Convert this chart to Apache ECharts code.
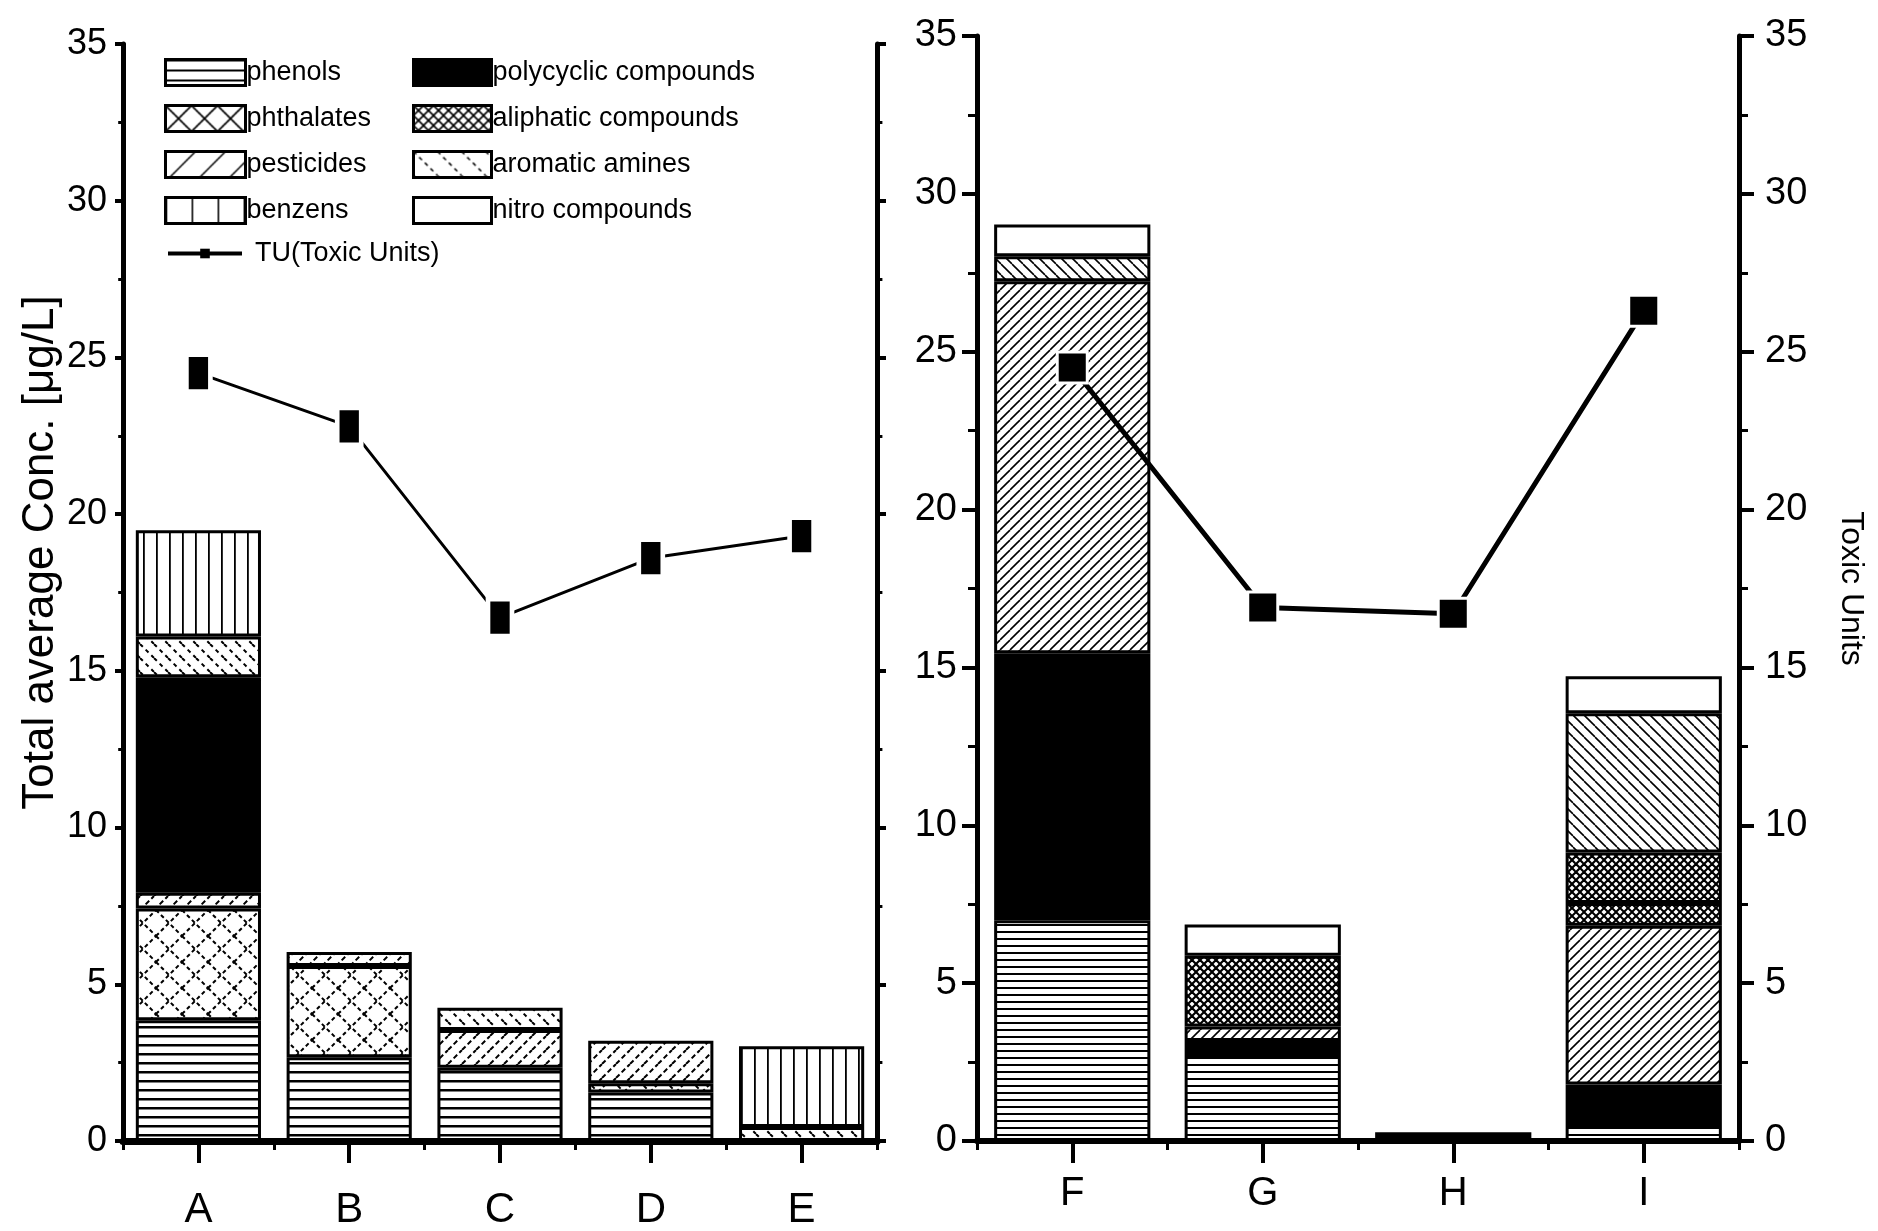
<!DOCTYPE html>
<html>
<head>
<meta charset="utf-8">
<title>Total average concentration and toxic units</title>
<script src="https://cdn.jsdelivr.net/npm/echarts@6/dist/echarts.min.js"></script>
<style>
  html, body { margin: 0; padding: 0; background: #fff; }
  #chart { width: 1878px; height: 1231px; }
</style>
</head>
<body>
<div id="chart"></div>
<script>
// ---- data ----
const leftCats = ['A', 'B', 'C', 'D', 'E'];
const rightCats = ['F', 'G', 'H', 'I'];

// left panel, stacked bottom -> top
const leftPhenols    = [3.85, 2.67, 2.34, 1.55, null];
const leftPhthalates = [3.57, 2.91, null, 0.29, null];
const leftPesticides = [0.50, 0.45, 1.20, 1.36, null];
const leftPolycyclic = [6.88, null, null, null, null];
const leftAromatic   = [1.30, null, 0.71, null, 0.45];
const leftBenzens    = [3.39, null, null, null, 2.57];
const leftTU         = [24.5, 22.8, 16.7, 18.6, 19.3];

// right panel, stacked bottom -> top
const rightPhenols    = [6.99, 2.69, null, 0.51];
const rightPolycyclic = [8.46, 0.48, 0.28, 1.28];
const rightPesticides = [11.78, 0.46, null, 5.03];
const rightPhthalates = [null, null, null, 0.72];
const rightAliphatic  = [null, 2.24, null, 1.60];
const rightAromatic   = [0.79, null, null, 4.41];
const rightNitro      = [1.01, 0.99, null, 1.17];
const rightTU         = [24.5, 16.9, 16.7, 26.3];

const axisMax = 35;
const axisStep = 5;

const narrowFont = "'Liberation Sans Narrow', 'Liberation Sans', sans-serif";
const plainFont = "'Liberation Sans', Arial, sans-serif";

// ---- hatch fills, drawn on small canvases ----
function tile(size, draw) {
  const c = document.createElement('canvas');
  c.width = size;
  c.height = size;
  const g = c.getContext('2d');
  g.fillStyle = '#fff';
  g.fillRect(0, 0, size, size);
  g.fillStyle = '#000';
  g.strokeStyle = '#000';
  draw(g, size);
  return { image: c, repeat: 'repeat' };
}
function hLines(gap, w) {
  return tile(gap, (g, s) => g.fillRect(0, 0, s, w));
}
function vLines(gap, w) {
  return tile(gap, (g, s) => g.fillRect(0, 0, w, s));
}
function diagLines(gap, w, dir, dash) {
  return tile(gap, (g, s) => {
    g.lineWidth = w;
    if (dash) g.setLineDash(dash);
    for (let k = -1; k <= 1; k++) {
      g.beginPath();
      if (dir > 0) { g.moveTo(k * s, s); g.lineTo(k * s + s, 0); }
      else { g.moveTo(k * s, 0); g.lineTo(k * s + s, s); }
      g.stroke();
    }
  });
}
function crossLines(gap, w, dash) {
  return tile(gap, (g, s) => {
    g.lineWidth = w;
    if (dash) g.setLineDash(dash);
    for (let k = -1; k <= 1; k++) {
      g.beginPath(); g.moveTo(k * s, s); g.lineTo(k * s + s, 0); g.stroke();
      g.beginPath(); g.moveTo(k * s, 0); g.lineTo(k * s + s, s); g.stroke();
    }
  });
}

const fills = {
  phenolsL: hLines(9, 2.5),
  phenolsR: hLines(7, 2),
  phthalatesL: crossLines(26, 2, [4, 3]),
  phthalatesR: crossLines(8, 2),
  pesticidesL: diagLines(14, 2, 1, [5, 3]),
  pesticidesR: diagLines(10, 1.6, 1),
  polycyclic: '#000',
  aliphatic: crossLines(8, 2.2),
  aromaticL: diagLines(14, 2, -1, [4, 4]),
  aromaticR: diagLines(11, 1.6, -1),
  benzens: vLines(13, 1.8),
  nitro: '#fff'
};

// sparse versions just for the legend boxes
const legendFills = {
  phenols: hLines(10, 2),
  phthalates: crossLines(26, 1.6),
  pesticides: diagLines(30, 1.5, 1),
  benzens: vLines(26, 1.6),
  polycyclic: '#000',
  aliphatic: crossLines(10, 1.6),
  aromatic: diagLines(24, 1.5, -1, [4, 4]),
  nitro: '#fff'
};

function stackBar(name, data, fill, grid, stack, width) {
  return {
    name: name,
    type: 'bar',
    stack: stack,
    xAxisIndex: grid * 2,
    yAxisIndex: grid * 2,
    barWidth: width,
    data: data,
    itemStyle: { color: fill, borderColor: '#000', borderWidth: 3 },
    emphasis: { disabled: true },
    z: 2
  };
}

function valueAxis(grid, position, label, tickLen) {
  return {
    type: 'value',
    gridIndex: grid,
    position: position,
    min: 0,
    max: axisMax,
    interval: axisStep,
    axisLine: { show: true, lineStyle: { color: '#000', width: 5 } },
    axisTick: { show: true, length: tickLen, lineStyle: { color: '#000', width: 4 } },
    minorTick: { show: true, splitNumber: 2, length: tickLen * 0.6, lineStyle: { color: '#000', width: 3 } },
    splitLine: { show: false },
    axisLabel: label
  };
}

function catAxis(grid, cats, label, lineWidth) {
  return {
    type: 'category',
    gridIndex: grid,
    position: 'bottom',
    data: cats,
    axisLine: { show: true, lineStyle: { color: '#000', width: lineWidth } },
    axisTick: { show: true, alignWithLabel: true, length: 22, lineStyle: { color: '#000', width: 4 } },
    axisLabel: label
  };
}
// second category axis only for the small ticks between the bars
function boundaryAxis(grid, cats) {
  return {
    type: 'category',
    gridIndex: grid,
    position: 'bottom',
    data: cats,
    axisLine: { show: false },
    axisTick: { show: true, length: 9, lineStyle: { color: '#000', width: 3 } },
    axisLabel: { show: false }
  };
}

const lineName = 'TU(Toxic Units)';
const legendText = { fontSize: 27, fontFamily: plainFont, color: '#000', padding: [0, 0, 0, -4] };

const option = {
  backgroundColor: '#fff',
  animation: false,
  grid: [
    { left: 123, top: 44, width: 754, height: 1097 },
    { left: 977, top: 36, width: 762, height: 1105 }
  ],
  legend: [
    {
      left: 164, top: 58, orient: 'vertical', padding: 0,
      icon: 'rect',
      itemWidth: 80, itemHeight: 26, itemGap: 17,
      selectedMode: false,
      textStyle: legendText,
      itemStyle: { borderColor: '#000', borderWidth: 3 },
      data: [
        { name: 'phenols', itemStyle: { color: legendFills.phenols } },
        { name: 'phthalates', itemStyle: { color: legendFills.phthalates } },
        { name: 'pesticides', itemStyle: { color: legendFills.pesticides } },
        { name: 'benzens', itemStyle: { color: legendFills.benzens } }
      ]
    },
    {
      left: 412, top: 58, orient: 'vertical', padding: 0,
      icon: 'rect',
      itemWidth: 78, itemHeight: 26, itemGap: 17,
      selectedMode: false,
      textStyle: legendText,
      itemStyle: { borderColor: '#000', borderWidth: 3 },
      data: [
        { name: 'polycyclic compounds', itemStyle: { color: legendFills.polycyclic } },
        { name: 'aliphatic compounds', itemStyle: { color: legendFills.aliphatic } },
        { name: 'aromatic amines', itemStyle: { color: legendFills.aromatic } },
        { name: 'nitro compounds', itemStyle: { color: legendFills.nitro } }
      ]
    },
    {
      left: 166, top: 240, orient: 'vertical', padding: 0,
      itemWidth: 74, itemHeight: 12,
      selectedMode: false,
      textStyle: { fontSize: 27, fontFamily: plainFont, color: '#000', padding: [0, 0, 0, 8] },
      data: [
        { name: lineName, itemStyle: { color: '#000', borderWidth: 0 }, lineStyle: { color: '#000', width: 4 } }
      ]
    }
  ],
  xAxis: [
    catAxis(0, leftCats, { fontSize: 42, fontFamily: narrowFont, color: '#000', margin: 48 }, 7),
    boundaryAxis(0, leftCats),
    catAxis(1, rightCats, { fontSize: 40, fontFamily: plainFont, color: '#000', margin: 33 }, 6),
    boundaryAxis(1, rightCats)
  ],
  yAxis: [
    Object.assign(valueAxis(0, 'left', { fontSize: 36, fontFamily: narrowFont, color: '#000', margin: 16 }, 8), {
      name: 'Total average Conc. [\u03bcg/L]',
      nameLocation: 'middle',
      nameGap: 60,
      nameMoveOverlap: false,
      nameTextStyle: { fontSize: 44, fontFamily: plainFont, color: '#000', padding: [0, 0, 0, 80] }
    }),
    valueAxis(0, 'right', { show: false }, 9),
    valueAxis(1, 'left', { fontSize: 38, fontFamily: plainFont, color: '#000', margin: 20 }, 15),
    Object.assign(valueAxis(1, 'right', { fontSize: 38, fontFamily: plainFont, color: '#000', margin: 26 }, 15), {
      name: 'Toxic Units',
      nameLocation: 'middle',
      nameRotate: -90,
      nameGap: 96,
      nameTextStyle: { fontSize: 32, fontFamily: plainFont, color: '#000' }
    })
  ],
  series: [
    // left panel
    stackBar('phenols', leftPhenols, fills.phenolsL, 0, 'left', '83%'),
    stackBar('phthalates', leftPhthalates, fills.phthalatesL, 0, 'left', '83%'),
    stackBar('pesticides', leftPesticides, fills.pesticidesL, 0, 'left', '83%'),
    stackBar('polycyclic compounds', leftPolycyclic, fills.polycyclic, 0, 'left', '83%'),
    stackBar('aromatic amines', leftAromatic, fills.aromaticL, 0, 'left', '83%'),
    stackBar('benzens', leftBenzens, fills.benzens, 0, 'left', '83%'),
    {
      name: lineName,
      type: 'line',
      xAxisIndex: 0,
      yAxisIndex: 1,
      data: leftTU,
      symbol: 'rect',
      symbolSize: [24, 40],
      itemStyle: { color: '#000', borderColor: '#fff', borderWidth: 6 },
      lineStyle: { color: '#000', width: 3 },
      emphasis: { disabled: true },
      z: 5
    },
    // right panel
    stackBar('phenols', rightPhenols, fills.phenolsR, 1, 'right', '82%'),
    stackBar('polycyclic compounds', rightPolycyclic, fills.polycyclic, 1, 'right', '82%'),
    stackBar('pesticides', rightPesticides, fills.pesticidesR, 1, 'right', '82%'),
    stackBar('phthalates', rightPhthalates, fills.phthalatesR, 1, 'right', '82%'),
    stackBar('aliphatic compounds', rightAliphatic, fills.aliphatic, 1, 'right', '82%'),
    stackBar('aromatic amines', rightAromatic, fills.aromaticR, 1, 'right', '82%'),
    stackBar('nitro compounds', rightNitro, fills.nitro, 1, 'right', '82%'),
    {
      name: lineName,
      type: 'line',
      xAxisIndex: 2,
      yAxisIndex: 3,
      data: rightTU,
      symbol: 'rect',
      symbolSize: [30, 31],
      itemStyle: { color: '#000', borderColor: '#fff', borderWidth: 3 },
      lineStyle: { color: '#000', width: 5 },
      emphasis: { disabled: true },
      z: 5
    }
  ]
};

const chart = echarts.init(document.getElementById('chart'));
chart.setOption(option);
</script>
</body>
</html>
